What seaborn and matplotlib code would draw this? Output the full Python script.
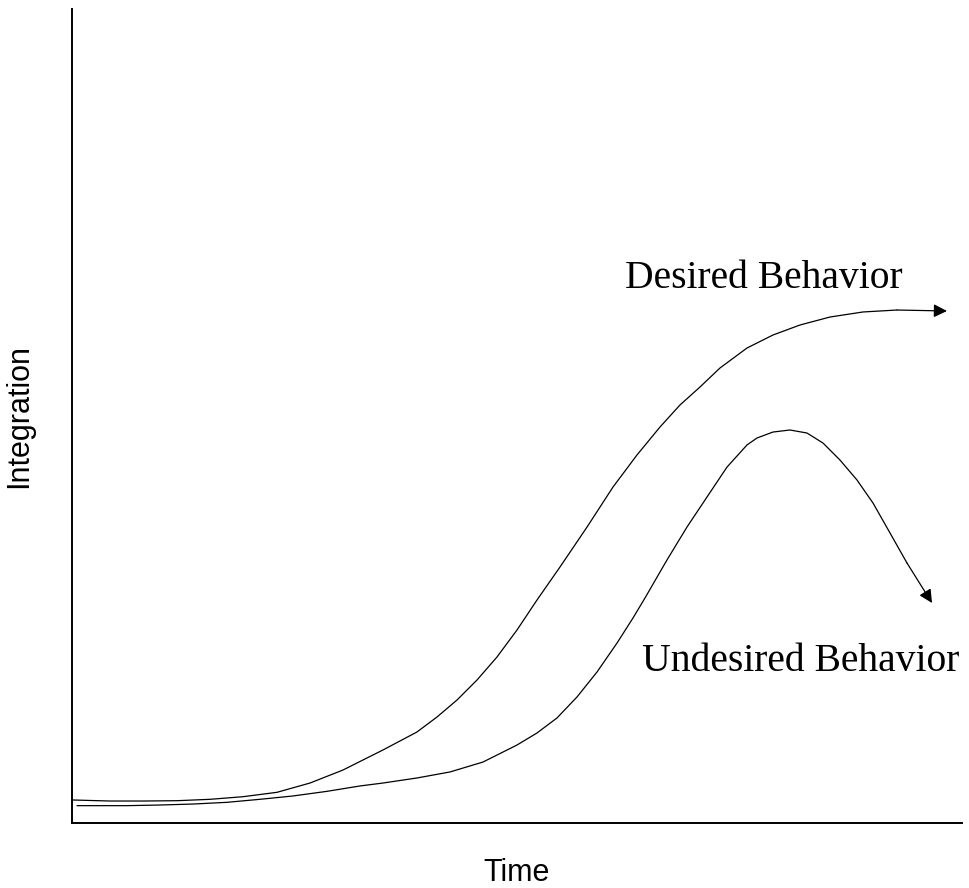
import matplotlib
matplotlib.use("Agg")
import matplotlib.pyplot as plt
import seaborn as sns
import pandas as pd

sns.set_style("white")

# Conceptual curves (time on x, integration on y, arbitrary 0-100 units)
desired_time = [0.0, 4.27, 7.98, 11.80, 15.51, 19.21, 23.03, 26.74, 30.45, 34.94,
                38.76, 41.01, 43.26, 45.51, 47.75, 50.00, 52.25, 54.83, 57.87, 60.79,
                63.48, 66.07, 68.31, 70.56, 72.81, 75.84, 78.76, 81.80, 85.17, 88.88,
                92.70, 98.31]
desired_integration = [2.83, 2.70, 2.70, 2.74, 2.91, 3.23, 3.77, 4.91, 6.51, 8.97,
                       11.18, 13.02, 15.11, 17.57, 20.39, 23.71, 27.40, 31.45, 36.36, 41.28,
                       45.21, 48.65, 51.35, 53.56, 55.90, 58.35, 59.95, 61.18, 62.16, 62.78,
                       63.02, 62.90]

undesired_time = [0.56, 6.18, 9.89, 13.60, 17.42, 21.12, 24.83, 28.65, 32.36, 34.94,
                  38.76, 42.47, 46.18, 50.00, 52.25, 54.49, 56.74, 58.99, 61.24, 63.03,
                  64.38, 66.85, 69.10, 71.35, 73.60, 75.84, 76.97, 78.76, 80.67, 82.58,
                  84.38, 86.29, 88.20, 90.00, 91.91, 93.82, 96.63]
undesired_integration = [2.13, 2.13, 2.21, 2.33, 2.54, 2.91, 3.32, 3.89, 4.55, 4.91,
                         5.53, 6.27, 7.49, 9.58, 11.06, 12.90, 15.48, 18.55, 22.11, 25.18,
                         27.64, 32.31, 36.36, 40.05, 43.73, 46.44, 47.30, 48.03, 48.28, 47.91,
                         46.68, 44.59, 42.14, 39.31, 35.63, 31.94, 27.03]

curve_labels = ["Desired Behavior", "Undesired Behavior"]
label_positions = [(77.75, 66.9), (81.9, 19.8)]

W, H = 969, 888
fig = plt.figure(figsize=(W / 100, H / 100), dpi=100)
ax = fig.add_axes([72 / W, 1 - 823 / H, (962 - 72) / W, (823 - 9) / H])

for t, v in [(desired_time, desired_integration), (undesired_time, undesired_integration)]:
    df = pd.DataFrame({"Time": t[:-1], "Integration": v[:-1]})
    sns.lineplot(data=df, x="Time", y="Integration", sort=False, estimator=None,
                 color="black", linewidth=0.9, ax=ax)
    # last segment carries the arrowhead
    ax.annotate("", xy=(t[-1], v[-1]), xytext=(t[-2], v[-2]),
                arrowprops=dict(arrowstyle="-|>", color="black", lw=0.9,
                                mutation_scale=20, shrinkA=0, shrinkB=0))

for text, (x, y) in zip(curve_labels, label_positions):
    ax.text(x, y, text, ha="center", va="center", fontsize=28.5,
            family="Liberation Serif", color="black")

ax.set_xlim(0, 100)
ax.set_ylim(0, 100)
ax.set_xticks([])
ax.set_yticks([])
ax.set_xlabel("Time", fontsize=22, family="Liberation Sans", labelpad=25, color="black")
ax.set_ylabel("Integration", fontsize=22, family="Liberation Sans", labelpad=27, color="black")

for side in ["top", "right"]:
    ax.spines[side].set_visible(False)
for side in ["left", "bottom"]:
    ax.spines[side].set_color("black")
    ax.spines[side].set_linewidth(1.4)

fig.savefig("out.png", dpi=100, facecolor="white")
